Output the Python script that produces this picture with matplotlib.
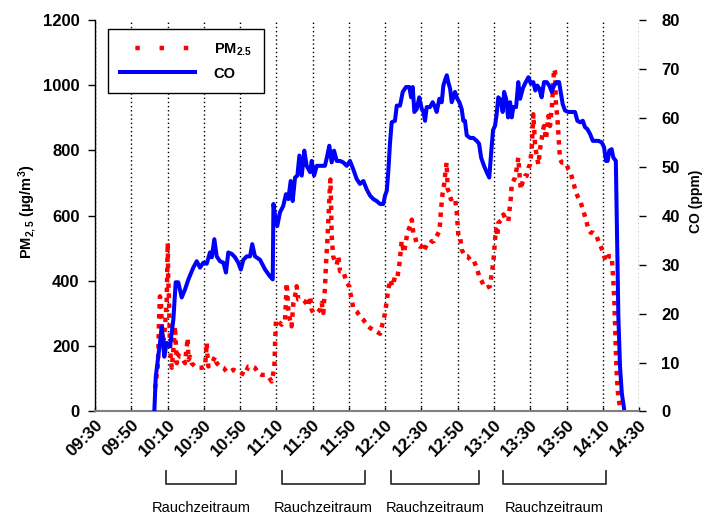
import matplotlib
matplotlib.use('Agg')
import matplotlib.pyplot as plt
from matplotlib.lines import Line2D
from matplotlib.transforms import blended_transform_factory

plt.rcParams.update({
    'font.family':      'Liberation Sans',
    'font.weight':      'bold',
    'mathtext.fontset': 'custom',
    'mathtext.rm':      'Liberation Sans:bold',
    'mathtext.bf':      'Liberation Sans:bold',
    'mathtext.it':      'Liberation Sans:bold',
    'mathtext.default': 'rm',
})

# Zeit in Minuten nach 09:30
tick_minutes = list(range(0, 301, 20))
tick_labels = ['09:30', '09:50', '10:10', '10:30', '10:50', '11:10', '11:30', '11:50',
               '12:10', '12:30', '12:50', '13:10', '13:30', '13:50', '14:10', '14:30']

# Rauchzeiträume (Start, Ende) in Minuten nach 09:30
smoke_periods = [(39, 78), (103, 149), (163, 212), (225, 282)]

co_minutes = [
    32.7, 33.5, 35.8, 36.8, 38.2, 39.5, 41.4, 43.2, 44.5, 45.9,
    47.8, 49.6, 51.5, 54.2, 56.1, 57.9, 59.7, 61.6, 63.4, 64.4,
    65.8, 67.1, 68.9, 70.8, 72.2, 73.5, 75.4, 77.2, 79.0, 80.4,
    81.8, 83.7, 85.5, 86.7, 88.2, 91.0, 93.8, 96.5, 98.0, 98.4,
    99.3, 100.5, 102.0, 103.8, 105.3, 106.6, 107.9, 109.0, 110.3, 111.6,
    112.7, 114.0, 115.4, 116.7, 118.6, 119.5, 120.8, 122.3, 124.1, 126.8,
    128.1, 129.2, 130.5, 131.8, 133.3, 135.1, 136.9, 138.8, 140.6, 142.4,
    144.3, 146.1, 148.0, 149.8, 151.7, 153.5, 155.3, 157.2, 159.0, 159.9,
    160.9, 161.7, 162.7, 163.6, 165.4, 166.4, 168.2, 169.7, 171.5, 173.3,
    174.3, 175.2, 176.1, 177.4, 178.8, 180.2, 181.1, 182.0, 182.9, 184.7,
    186.2, 187.5, 188.4, 189.9, 191.2, 192.1, 193.0, 194.0, 194.8, 195.8,
    196.7, 197.6, 198.5, 199.8, 200.9, 202.2, 203.1, 204.0, 205.0, 206.8,
    208.6, 210.5, 211.8, 212.9, 214.5, 216.0, 217.4, 218.7, 219.5, 220.6,
    221.5, 222.4, 223.7, 224.8, 225.6, 226.7, 227.8, 228.9, 229.8, 230.7,
    232.2, 233.4, 234.4, 235.9, 237.1, 239.0, 240.3, 241.7, 242.8, 243.9,
    245.0, 246.3, 247.6, 249.1, 250.5, 251.9, 253.1, 254.6, 255.9, 256.8,
    257.9, 259.2, 261.0, 262.9, 264.7, 266.0, 267.5, 269.0, 270.2, 271.5,
    273.0, 274.5, 275.7, 277.6, 279.4, 280.7, 281.8, 282.7, 283.6, 284.9,
    285.8, 287.2, 287.7, 288.6, 289.5, 290.5, 291.7,
]
co_ppm = [
    0, 7.1, 14, 17.4, 11.2, 14, 13.3, 18.8, 26.4, 26.4,
    23.3, 24.9, 27, 29.4, 30.7, 29.4, 30.4, 30.2, 32.5, 31.5,
    35.2, 31.7, 30.7, 30.4, 28.4, 32.5, 32.2, 31.5, 30.4, 29,
    31, 31.7, 31.7, 34.2, 31.7, 31, 29, 27.6, 27, 42.4,
    40, 37.9, 40.7, 42, 44.4, 43.4, 47.1, 43, 47.8, 48.2,
    52.3, 48.2, 53.3, 50.2, 48.9, 51.2, 48.2, 50.2, 50.2, 50.2,
    52.3, 54.3, 50.9, 53.3, 51.2, 51.2, 50.9, 50.2, 51.2, 49.5,
    47.5, 46.5, 47.1, 45.4, 44.1, 43.4, 43, 42.4, 42.4, 44.1,
    45.1, 48.9, 55, 59.1, 59.4, 62.5, 62.5, 65.3, 66.3, 66.3,
    64.2, 66.3, 61.2, 61.8, 64.2, 61.8, 61.2, 59.4, 62.2, 62.2,
    63.2, 62.2, 61.2, 63.9, 63.2, 66.6, 67.7, 68.7, 67.3, 66,
    63.2, 64.2, 65.3, 63.9, 63.2, 61.8, 59.4, 59.4, 56.4, 55.9,
    55.9, 55.3, 54.7, 51.9, 50.2, 48.9, 47.8, 54, 57.5, 58.4,
    60.8, 64.2, 63.6, 61.2, 65.3, 63.9, 60.1, 63.2, 60.1, 62.2,
    62.2, 67.3, 63.9, 66, 67, 68.3, 67, 67.3, 65.6, 66.6,
    66, 64.2, 67.3, 67.3, 66.6, 65.3, 66.6, 67.3, 67.3, 65.3,
    62.8, 61.5, 61.2, 61.2, 61.2, 59.4, 59.1, 59.4, 58.1, 57.7,
    56.7, 55.3, 55.3, 55.3, 55, 54, 51.2, 51.2, 53.3, 53.6,
    51.9, 51.2, 40, 19.4, 9.2, 3.7, 0.7,
]

pm_minutes = [
    33.1, 34.6, 34.9, 35.3, 35.8, 36.4, 36.8, 37.7, 38.6, 39.5,
    40.1, 40.4, 40.8, 41.4, 42.3, 43.2, 44.1, 45.1, 45.9, 46.9,
    47.8, 49.6, 51.1, 51.5, 52.4, 53.3, 55.1, 57.0, 58.8, 60.7,
    61.6, 61.9, 62.5, 64.4, 66.2, 67.1, 68.9, 70.8, 72.6, 74.4,
    76.3, 78.1, 80.9, 82.7, 84.5, 86.4, 88.2, 90.1, 91.9, 93.8,
    95.6, 97.4, 98.3, 98.9, 99.3, 99.8, 101.1, 102.9, 104.8, 105.3,
    105.7, 106.6, 107.5, 108.4, 109.4, 110.3, 111.2, 112.1, 114.0, 115.8,
    117.6, 118.6, 119.5, 120.4, 122.3, 124.1, 125.0, 125.9, 126.8, 127.4,
    128.1, 128.8, 129.3, 129.8, 130.2, 130.5, 131.3, 132.3, 133.3, 134.2,
    135.1, 136.9, 138.8, 140.2, 140.6, 141.6, 142.4, 144.3, 146.1, 148.0,
    149.8, 151.7, 153.5, 155.3, 157.2, 159.9, 160.9, 161.7, 162.7, 164.2,
    165.4, 166.7, 167.8, 168.6, 169.1, 170.4, 171.5, 172.2, 173.7, 174.7,
    175.5, 176.5, 177.4, 178.8, 180.2, 181.4, 182.9, 184.4, 185.7, 186.9,
    188.4, 189.9, 190.3, 190.8, 191.7, 192.5, 193.4, 193.9, 194.5, 195.4,
    196.2, 197.6, 198.5, 199.5, 200.4, 201.3, 202.2, 204.0, 205.3, 206.8,
    208.6, 210.5, 211.9, 213.3, 214.5, 216.0, 217.8, 219.7, 220.6, 221.2,
    221.9, 222.4, 224.3, 225.2, 226.7, 227.9, 229.3, 229.8, 230.7, 231.6,
    232.6, 233.4, 234.0, 234.8, 235.9, 237.1, 238.0, 239.0, 239.9, 240.8,
    241.4, 241.7, 242.7, 243.6, 244.5, 245.4, 246.3, 246.9, 247.6, 248.7,
    250.0, 250.9, 251.9, 252.7, 253.1, 253.7, 254.2, 254.9, 255.7, 256.1,
    256.4, 257.4, 259.2, 260.1, 261.0, 262.3, 263.8, 265.3, 266.5, 267.9,
    269.3, 270.8, 272.0, 273.4, 274.8, 276.3, 277.6, 278.9, 280.3, 281.6,
    283.1, 284.9, 285.8, 286.4, 286.8, 287.2, 287.7, 288.0, 288.6, 289.5,
    291.3,
]
pm_ugm3 = [
    71, 138, 180, 281, 353, 333, 261, 210, 260, 333,
    517, 404, 343, 189, 134, 189, 261, 148, 174, 168,
    168, 148, 225, 158, 168, 148, 138, 134, 134, 138,
    210, 179, 138, 148, 168, 148, 138, 134, 122, 122,
    128, 122, 117, 112, 138, 138, 134, 117, 112, 112,
    107, 92, 117, 138, 210, 281, 276, 266, 281, 343,
    394, 312, 281, 261, 333, 353, 384, 343, 343, 337,
    322, 353, 312, 302, 302, 312, 333, 302, 379, 455,
    522, 600, 665, 711, 624, 540, 476, 460, 450, 476,
    430, 430, 394, 384, 368, 343, 317, 307, 291, 281,
    266, 256, 250, 245, 238, 300, 340, 373, 404, 384,
    414, 410, 450, 496, 522, 486, 522, 548, 568, 588,
    548, 537, 512, 506, 506, 491, 512, 512, 522, 522,
    537, 553, 578, 619, 670, 696, 742, 763, 681, 671,
    650, 655, 655, 609, 537, 537, 496, 476, 476, 466,
    466, 440, 414, 399, 384, 379, 384, 460, 527, 558,
    537, 578, 588, 604, 588, 583, 655, 696, 706, 717,
    747, 778, 732, 681, 706, 722, 722, 747, 757, 804,
    875, 911, 814, 783, 757, 804, 834, 860, 875, 834,
    906, 875, 932, 1003, 1050, 1040, 937, 906, 834, 793,
    773, 763, 763, 757, 742, 732, 701, 670, 655, 640,
    614, 588, 558, 548, 548, 542, 522, 506, 486, 460,
    476, 476, 404, 333, 261, 189, 117, 87, 41, 15,
    10,
]

RED = '#FF0000'
BLUE = '#0000FF'

fig = plt.figure(figsize=(7.08, 5.15), dpi=100)
ax = fig.add_axes([0.1342, 0.2010, 0.7684, 0.7602])
ax2 = ax.twinx()

ax.plot(pm_minutes, pm_ugm3, color=RED, lw=3.2, ls=(0, (1, 1.25)))
ax2.plot(co_minutes, co_ppm, color=BLUE, lw=2.9)

ax.set_xlim(0, 300)
ax.set_ylim(0, 1200)
ax2.set_ylim(0, 80)
ax.set_yticks(range(0, 1201, 200))
ax2.set_yticks(range(0, 81, 10))
ax.set_xticks(tick_minutes)
ax.set_xticklabels(tick_labels, rotation=45, ha='right', rotation_mode='anchor')

ax.grid(axis='x', color='black', linestyle=(0, (1, 2)), linewidth=1.0)
ax.set_axisbelow(True)

for s in ['top', 'right']:
    ax.spines[s].set_visible(False)
for s in ['top', 'right', 'left', 'bottom']:
    ax2.spines[s].set_visible(False)
ax.spines['bottom'].set_color('#808080')
ax.spines['bottom'].set_linewidth(1.5)
ax.spines['left'].set_linewidth(1.0)

ax.tick_params(axis='y', direction='out', length=5, width=1, labelsize=12, pad=6)
ax.tick_params(axis='x', direction='in', length=3, width=1, labelsize=12.5, pad=4)
ax2.tick_params(axis='y', direction='out', length=5, width=1, labelsize=12, pad=11)

ax.set_ylabel('PM$_{2,5}$ (µg/m$^3$)', fontsize=10.5, fontweight='bold')
ax.yaxis.set_label_coords(-0.104, 0.51)
ax2.set_ylabel('CO (ppm)', fontsize=10, fontweight='bold')
ax2.yaxis.set_label_coords(1.092, 0.536)

handles = [
    Line2D([], [], color=RED, lw=3.2, ls=(2.0, (1, 4.45))),
    Line2D([], [], color=BLUE, lw=2.9),
]
leg = ax2.legend(handles, ['PM$_{2.5}$', 'CO'], loc='upper left',
                 bbox_to_anchor=(0.024, 0.977), borderaxespad=0,
                 fontsize=10.5, handlelength=5.1, handletextpad=1.3,
                 borderpad=0.85, labelspacing=0.6,
                 fancybox=False, edgecolor='black', framealpha=1)
leg.get_frame().set_linewidth(1.0)

trans = blended_transform_factory(ax.transData, fig.transFigure)
for t0, t1 in smoke_periods:
    fig.add_artist(Line2D([t0, t0, t1, t1], [0.0845, 0.0602, 0.0602, 0.0845],
                          transform=trans, color='#333333', lw=1.3))
    fig.text((t0 + t1) / 2, 0.0065, 'Rauchzeitraum', transform=trans,
             ha='center', va='baseline', fontsize=10.5, fontweight='normal')

fig.savefig('out.png', dpi=100)
